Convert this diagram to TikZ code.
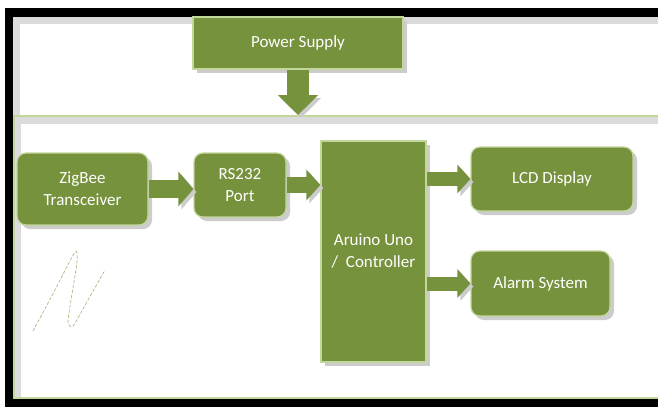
\documentclass[tikz,border=0pt]{standalone}
\usepackage{fontspec}
\setmainfont{Carlito}
\usetikzlibrary{arrows.meta,shadows}
\definecolor{olivefill}{HTML}{76923C}
\definecolor{oliveedge}{HTML}{C3D69B}

\begin{document}
\begin{tikzpicture}[x=1pt,y=-1pt,
	block/.style={draw=oliveedge, line width=1.2pt, fill=olivefill, text=white, font=\fontsize{17}{22}\selectfont, align=center, inner sep=0pt, drop shadow={shadow xshift=4pt, shadow yshift=-4pt, fill=black!20, opacity=1}},
	roundblock/.style={block, rounded corners=9pt},
	blockarrow/.style={draw=olivefill, line width=#1, preaction={draw=black!20, transform canvas={xshift=3pt, yshift=-3pt}}},
	sketch/.style={draw=olivefill!70, line width=0.6pt, densely dashed, line cap=round}]
		%%%%% START %%%%%
		\useasboundingbox (0,0) rectangle (658,407);
		\fill[white] (0,0) rectangle (658,407);
		
		% page edges
		\fill[black] (5,8) rectangle (658,17);
		\fill[black] (5,8) rectangle (13,407);
		\fill[black] (5,399) rectangle (658,407);
		\fill[black!14] (13,17) rectangle (658,24);
		\fill[black!14] (13,17) rectangle (20,115);
		\fill[black!14] (14,117) rectangle (658,124);
		\fill[black!14] (14,117) rectangle (21,398);
		\draw[oliveedge, line width=1.5pt] (658,116) -- (14,116) -- (14,398) -- (658,398);
		\coordinate (frame) at (298,115);
		
		% blocks
		\node[block, minimum width=210pt, minimum height=52pt] (power) at (298,43) {Power Supply};
		\node[roundblock, minimum width=131pt, minimum height=72pt] (zigbee) at (82.5,189) {ZigBee\\Transceiver};
		\node[roundblock, minimum width=92pt, minimum height=64pt] (rs) at (240,185) {RS232\\Port};
		\node[block, minimum width=105pt, minimum height=221pt] (uno) at (373.5,251.5) {Aruino Uno\\/ \ Controller};
		\node[roundblock, minimum width=162pt, minimum height=64pt] (lcd) at (552,179) {LCD Display};
		\node[roundblock, minimum width=139pt, minimum height=65pt] (alarm) at (540.5,283.5) {Alarm System};
		
		% arrows
		\draw[blockarrow=22pt, -{Triangle[length=20pt,width=39pt]}] (power.south) -- (frame);
		\draw[blockarrow=18pt, -{Triangle[length=15pt,width=34pt]}] (zigbee.east) -- (zigbee.east -| rs.west);
		\draw[blockarrow=16pt, -{Triangle[length=14pt,width=30pt]}] (rs.east) -- (rs.east -| uno.west);
		\draw[blockarrow=14pt, -{Triangle[length=13pt,width=28pt]}] (uno.east |- lcd.west) -- (lcd.west);
		\draw[blockarrow=14pt, -{Triangle[length=13pt,width=28pt]}] (uno.east |- alarm.west) -- (alarm.west);
		
		% pen mark
		\draw[sketch] plot[smooth, tension=0.4] coordinates {(33,331) (55,290) (75,252) (77,262) (71,300) (68,322) (73,326) (88,300) (105,270)};
		%%%%% END %%%%%
\end{tikzpicture}
\end{document}
